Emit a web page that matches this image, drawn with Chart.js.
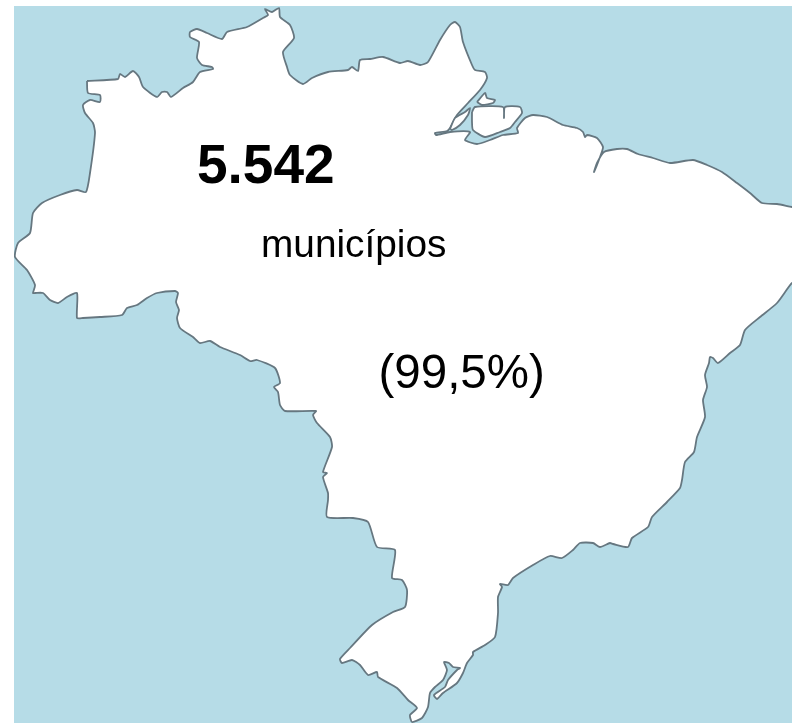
<!DOCTYPE html>
<html>
<head>
<meta charset="utf-8">
<script src="https://cdn.jsdelivr.net/npm/chart.js@4"></script>
<style>
html, body { margin: 0; padding: 0; background: #fff; overflow: hidden; }
#wrap { position: absolute; left: 14px; top: 6px; width: 778px; height: 717px; background: #b6dce7; }
</style>
</head>
<body>
<div id="wrap"><canvas id="map_chart"></canvas></div>
<script>
// outline, in picture pixels
const mainlandX = [87,118,120,125,133,139,143,157,162,167,171,183,193,200,213,212,202,197,199,190,190,197,207,222,227,247,263,268,265,272,279,280,290,294,283,287,290,303,312,328,348,352,358,360,370,383,400,408,420,428,440,450,455,460,463,472,475,485,487,480,468,457,450,447,435,436,450,470,465,477,490,503,518,517,525,533,547,563,577,583,585,587,597,603,600,594,597,604,617,627,638,653,670,693,707,722,737,750,762,777,792,800,800,792,777,760,745,740,730,718,713,710,709,705,707,703,705,697,694,685,682,680,667,652,648,632,628,613,610,600,593,580,573,562,550,533,513,508,500,502,498,498,495,485,473,473,467,463,457,443,437,434,445,448,457,460,453,449,444,447,443,435,430,428,422,412,410,417,408,397,378,377,368,360,352,342,340,350,372,393,405,407,402,392,395,377,368,353,327,328,328,323,327,323,332,330,317,313,316,285,280,278,274,280,275,257,250,240,220,210,200,193,180,177,179,176,178,175,157,147,137,127,122,100,83,77,77,67,58,50,43,35,33,35,27,15,18,30,33,42,60,77,86,90,95,93,85,83,90,100,100,88,87];
const mainlandY = [81,79,74,77,71,77,87,97,92,92,97,88,82,72,69,67,65,58,42,37,32,29,33,39,32,27,18,15,9,12,8,17,25,38,52,67,75,84,78,72,70,67,71,60,59,57,63,61,65,62,40,25,22,27,42,65,70,72,78,90,103,115,128,131,133,135,132,132,140,144,140,135,133,128,118,115,117,125,128,132,137,135,138,147,157,172,163,152,149,149,154,158,163,160,165,172,183,193,203,204,207,208,280,283,303,317,330,345,353,363,358,357,363,375,387,400,417,437,452,462,480,488,502,517,527,538,547,544,543,547,543,543,550,558,556,565,578,585,584,587,597,613,637,645,652,655,663,673,683,693,699,695,687,680,670,668,667,663,662,670,680,687,693,707,718,722,715,708,700,688,677,672,675,665,660,663,659,648,625,612,607,590,580,578,550,547,522,518,517,500,493,477,473,472,447,437,423,415,411,411,405,392,387,383,368,360,361,355,347,341,343,337,328,318,310,302,293,291,293,298,305,308,315,317,318,318,293,297,303,300,293,293,293,285,270,257,243,233,213,203,195,190,192,173,133,123,113,105,100,102,95,93,81];
const marajoX = [472,475,503,504,505,520,522,515,510,500,485,473,472,472];
const marajoY = [112,107,107,118,107,107,113,122,128,132,137,130,122,112];
const gurupaX = [450,455,465,470,468,460,452,450];
const gurupaY = [129,118,112,108,115,125,130,129];
const mexianaX = [477,485,487,495,493,482,477];
const mexianaY = [102,93,98,100,103,105,102];
const labels = ['5.542', 'municípios', '(99,5%)'];

function toPoints(xs, ys) {
    return xs.map((x, i) => ({ x: x, y: ys[i] }));
}

function landDataset(xs, ys, order) {
    return {
        data: toPoints(xs, ys),
        showLine: true,
        fill: 'shape',
        tension: 0.2,
        backgroundColor: '#ffffff',
        borderColor: '#667780',
        borderWidth: 1.8,
        borderJoinStyle: 'round',
        pointRadius: 0,
        order: order
    };
}

// texts sit on the map, placed through the same scales as the outline
const mapLabels = {
    id: 'mapLabels',
    afterDatasetsDraw(chart) {
        const c = chart.ctx;
        const sx = chart.scales.x;
        const sy = chart.scales.y;
        c.save();
        c.fillStyle = '#000';
        c.textBaseline = 'alphabetic';
        c.font = 'bold 55px "Liberation Sans"';
        c.fillText(labels[0], sx.getPixelForValue(197), sy.getPixelForValue(183));
        c.font = '38.8px "Liberation Sans"';
        c.fillText(labels[1], sx.getPixelForValue(261), sy.getPixelForValue(257));
        c.font = '47.5px "Liberation Sans"';
        c.fillText(labels[2], sx.getPixelForValue(378.5), sy.getPixelForValue(388));
        c.restore();
    }
};

new Chart(document.getElementById('map_chart'), {
    type: 'scatter',
    data: {
        datasets: [
            landDataset(mainlandX, mainlandY, 3),
            landDataset(marajoX, marajoY, 2),
            landDataset(gurupaX, gurupaY, 1),
            landDataset(mexianaX, mexianaY, 1)
        ]
    },
    options: {
        responsive: true,
        maintainAspectRatio: false,
        animation: false,
        layout: { padding: 0 },
        plugins: {
            legend: { display: false },
            tooltip: { enabled: false }
        },
        scales: {
            x: { type: 'linear', min: 14, max: 792, display: false },
            y: { type: 'linear', min: 6, max: 723, reverse: true, display: false }
        }
    },
    plugins: [mapLabels]
});
</script>
</body>
</html>
